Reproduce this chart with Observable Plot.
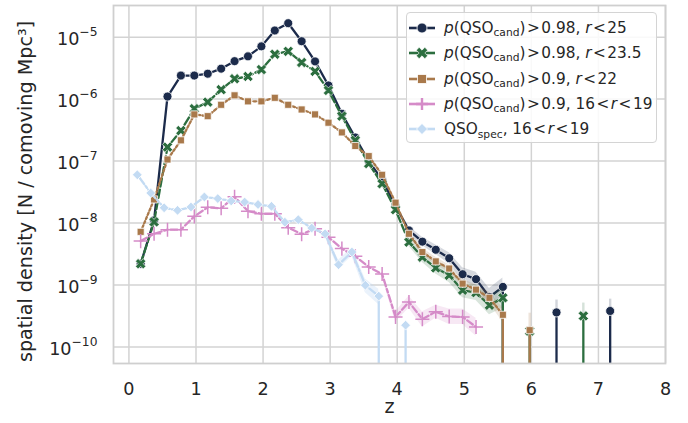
<!DOCTYPE html>
<html><head><meta charset="utf-8">
<script src="https://cdn.jsdelivr.net/npm/d3@7"></script>
<script src="https://cdn.jsdelivr.net/npm/@observablehq/plot@0.6"></script>
<style>
body{margin:0;background:#fff;}
#wrap{position:relative;width:688px;height:423px;font-family:"DejaVu Sans",sans-serif;color:#262626;}
#legend{position:absolute;left:406px;top:12px;width:251px;height:131px;box-sizing:border-box;border:1px solid #d4d4d4;border-radius:4px;background:rgba(255,255,255,0.85);font-size:15.3px;}
.row{position:absolute;left:0;height:20px;display:flex;align-items:center;white-space:nowrap;}
.row svg{margin-left:2px;margin-right:9px;}
.sub{font-size:70%;position:relative;top:0.3em;}
i{font-style:italic;}
</style></head>
<body><div id="wrap"></div>
<script>
// ---- data ----
const zCand = [0.175,0.375,0.575,0.775,0.975,1.175,1.375,1.575,1.775,1.975,2.175,2.375,2.575,2.775,2.975,3.175,3.375,3.575,3.775,3.975,4.175,4.375,4.575,4.775,4.975,5.175,5.375,5.575,5.775,5.975,6.175,6.375,6.575,6.775,6.975,7.175];
const navy  = [2.2e-9,1.1e-8,1.1e-6,2.4e-6,2.4e-6,2.57e-6,3.1e-6,4.1e-6,4.9e-6,7.1e-6,1.28e-5,1.68e-5,8.6e-6,4.06e-6,1.66e-6,5.8e-7,2.4e-7,1.0e-7,5.0e-8,1.9e-8,7.6e-9,5.0e-9,3.7e-9,2.7e-9,1.49e-9,1.24e-9,6.4e-10,9.3e-10,0,0,0,3.6e-10,0,0,0,3.8e-10];
const green = [2.2e-9,1.04e-8,1.68e-7,3.1e-7,7.0e-7,8.95e-7,1.42e-6,2.13e-6,2.32e-6,3.0e-6,5.3e-6,5.9e-6,3.9e-6,2.8e-6,1.38e-6,5.3e-7,2.16e-7,9.1e-8,4.3e-8,1.64e-8,4.9e-9,2.8e-9,1.88e-9,1.43e-9,8.2e-10,7.5e-10,4.7e-10,6.2e-10,0,1.8e-10,0,0,0,3.16e-10,0,0];
const brown = [7.2e-9,2.4e-8,1.06e-7,2.16e-7,5.66e-7,5.3e-7,8.1e-7,1.15e-6,9.2e-7,9.2e-7,1.05e-6,8.1e-7,6.8e-7,5.66e-7,4.16e-7,2.9e-7,1.75e-7,1.2e-7,6.0e-8,2.13e-8,6.7e-9,3.4e-9,2.4e-9,1.84e-9,1.05e-9,8.4e-10,6.2e-10,3.3e-10,0,1.86e-10,0,0,0,0,0,0];
const zPink = [0.175,0.375,0.575,0.775,0.975,1.175,1.375,1.575,1.775,1.975,2.175,2.375,2.575,2.775,2.975,3.175,3.375,3.575,3.775,3.975,4.175,4.375,4.575,4.775,4.975,5.175];
const pink  = [5.1e-9,6.7e-9,7.8e-9,7.8e-9,1.28e-8,1.79e-8,1.73e-8,2.65e-8,1.55e-8,1.41e-8,1.41e-8,8.4e-9,6.6e-9,8.1e-9,5.9e-9,3.86e-9,2.9e-9,1.95e-9,1.5e-9,3.05e-10,5.3e-10,2.8e-10,3.7e-10,3.1e-10,3.05e-10,2.1e-10];
const zSpec = [0.125,0.325,0.525,0.725,0.925,1.125,1.325,1.525,1.725,1.925,2.125,2.325,2.525,2.725,2.925,3.125,3.325,3.525,3.725,3.925,4.125,4.325];
const spec  = [6.0e-8,3.05e-8,1.76e-8,1.6e-8,1.81e-8,2.63e-8,2.48e-8,2.27e-8,2.18e-8,1.99e-8,1.86e-8,1.03e-8,1.13e-8,8.3e-9,6.7e-9,2.12e-9,3.4e-9,9.9e-10,6.6e-10,0,2.24e-10,0];

// confidence bands (tail parts where they are visible)
const zTail   = [4.175,4.375,4.575,4.775,4.975,5.175,5.375,5.575];
const navyLo  = [6.6e-9,4.3e-9,3.1e-9,2.2e-9,1.15e-9,9.5e-10,4.6e-10,6.6e-10];
const navyHi  = [8.8e-9,5.9e-9,4.4e-9,3.3e-9,1.9e-9,1.6e-9,8.8e-10,1.3e-9];
const greenLo = [4.2e-9,2.3e-9,1.5e-9,1.1e-9,6.2e-10,5.6e-10,3.3e-10,4.2e-10];
const greenHi = [5.7e-9,3.4e-9,2.3e-9,1.8e-9,1.08e-9,1.0e-9,6.6e-10,9.0e-10];
const brownLo = [6.0e-9,3.0e-9,2.1e-9,1.6e-9,9.0e-10,7.0e-10,5.0e-10,2.5e-10];
const brownHi = [7.5e-9,3.9e-9,2.8e-9,2.1e-9,1.25e-9,1.0e-9,7.6e-10,4.3e-10];
const zPinkTail = [3.775,3.975,4.175,4.375,4.575,4.775,4.975,5.175];
const pinkLo  = [1.35e-9,2.5e-10,4.2e-10,2.1e-10,2.9e-10,2.3e-10,2.3e-10,1.5e-10];
const pinkHi  = [1.65e-9,3.7e-10,6.6e-10,3.7e-10,4.7e-10,4.1e-10,4.1e-10,2.9e-10];
const zSpecTail = [2.925,3.125,3.325,3.525,3.725];
const specLo  = [6.0e-9,1.8e-9,2.9e-9,7.5e-10,4.8e-10];
const specHi  = [7.4e-9,2.5e-9,4.0e-9,1.25e-9,8.5e-10];
// upper error of isolated high-z points
const zSpike   = [5.975,6.375,6.775,7.175];
const spikeVal = [1.86e-10,3.6e-10,3.16e-10,3.8e-10];
const spikeHi  = [3.5e-10,5.7e-10,5.1e-10,5.9e-10];
const spikeCol = ["#a9794b","#1c2b4b","#2c6e3f","#1c2b4b"];

const xTicks = [0,1,2,3,4,5,6,7,8];
const yTicks = [1e-10,1e-9,1e-8,1e-7,1e-6,1e-5];
const yTickLabels = ["10^\u221210","10^\u22129","10^\u22128","10^\u22127","10^\u22126","10^\u22125"];
const xLabel = "z";
const yLabel = "spatial density [N / comoving Mpc\u00B3]";

const colors = {navy:"#1c2b4b", green:"#2c6e3f", brown:"#a9794b", pink:"#d58bc8", spec:"#c3dbf3"};

// ---- build ----
const rows = (zs, vs) => zs.map((z,i)=>({z, v: vs[i], prev: i>0 ? vs[i-1] : 1, next: i<vs.length-1 ? vs[i+1] : 1}));
const band = (zs, lo, hi) => zs.map((z,i)=>({z, lo: lo[i], hi: hi[i]}));
const pos = d => d.v > 0;
// points next to an empty (zero) bin fall straight to the floor of the log axis
const drops = rs => rs.filter(d => d.v > 0 && (d.prev === 0 || d.next === 0));
const FLOOR = 1e-12;
const LW = 2.3;

const lineOpts = (c, dash) => ({x:"z", y:"v", stroke: c, strokeWidth: LW, strokeDasharray: dash, clip: true});
const dropOpts = c => ({x:"z", y1: () => FLOOR, y2:"v", stroke: c, strokeWidth: LW, clip: true});

const navyR = rows(zCand, navy), greenR = rows(zCand, green), brownR = rows(zCand, brown);
const pinkR = rows(zPink, pink), specR = rows(zSpec, spec);

const chart = Plot.plot({
  width: 688, height: 423,
  marginLeft: 113, marginRight: 23, marginTop: 5, marginBottom: 60,
  style: {fontFamily: "DejaVu Sans", fontSize: "17.6px", color: "#262626", background: "white", overflow: "visible"},
  x: {domain: [-0.23, 8], label: null},
  y: {type: "log", domain: [Math.pow(10,-10.268), Math.pow(10,-4.489)], label: null},
  marks: [
    Plot.gridX(xTicks, {stroke: "#d3d3d3", strokeOpacity: 1, strokeWidth: 1.5}),
    Plot.gridY(yTicks, {stroke: "#d3d3d3", strokeOpacity: 1, strokeWidth: 1.5}),
    Plot.axisX(xTicks, {tickSize: 0, tickPadding: 19, tickFormat: d => String(d), fill: "#262626"}),
    Plot.axisY(yTicks, {tickSize: 0, tickPadding: 16, tickFormat: d => yTickLabels[yTicks.indexOf(d)], fill: "#262626"}),
    Plot.text([xLabel], {frameAnchor: "bottom", dy: 49, fontSize: 19.2, fill: "#262626"}),
    Plot.text([yLabel], {frameAnchor: "left", textAnchor: "middle", dx: -88, dy: 7, rotate: -90, fontSize: 19.2, fill: "#262626"}),

    // navy
    Plot.areaY(band(zTail, navyLo, navyHi), {x:"z", y1:"lo", y2:"hi", fill: colors.navy, fillOpacity: 0.18}),
    Plot.line(navyR, lineOpts(colors.navy, null)),
    Plot.ruleX(drops(navyR), dropOpts(colors.navy)),
    Plot.dot(navyR.filter(pos), {x:"z", y:"v", r: 4.5, symbol:"circle", fill: colors.navy, stroke:"white", strokeWidth: 0.8}),
    // green
    Plot.areaY(band(zTail, greenLo, greenHi), {x:"z", y1:"lo", y2:"hi", fill: colors.green, fillOpacity: 0.18}),
    Plot.line(greenR, lineOpts(colors.green, "8.3,3.1")),
    Plot.ruleX(drops(greenR), dropOpts(colors.green)),
    Plot.dot(greenR.filter(pos), {x:"z", y:"v", r: 4.6, symbol:"cross", rotate: 45, fill: colors.green, stroke:"white", strokeWidth: 0.6}),
    // brown
    Plot.areaY(band(zTail, brownLo, brownHi), {x:"z", y1:"lo", y2:"hi", fill: colors.brown, fillOpacity: 0.18}),
    Plot.line(brownR, lineOpts(colors.brown, "2.3,2.3")),
    Plot.ruleX(drops(brownR), dropOpts(colors.brown)),
    Plot.dot(brownR.filter(pos), {x:"z", y:"v", r: 4.0, symbol:"square", fill: colors.brown, stroke:"white", strokeWidth: 0.8}),
    // pink
    Plot.areaY(band(zPinkTail, pinkLo, pinkHi), {x:"z", y1:"lo", y2:"hi", fill: colors.pink, fillOpacity: 0.2}),
    Plot.line(pinkR, lineOpts(colors.pink, "6.9,2.9,3.5,2.9")),
    Plot.dot(pinkR.filter(pos), {x:"z", y:"v", r: 4.6, symbol:"plus", stroke: colors.pink, strokeWidth: 1.5}),
    // spectroscopic
    Plot.areaY(band(zSpecTail, specLo, specHi), {x:"z", y1:"lo", y2:"hi", fill: colors.spec, fillOpacity: 0.35}),
    Plot.line(specR, lineOpts(colors.spec, "11.5,2.3,2.3,2.3")),
    Plot.ruleX(drops(specR), dropOpts(colors.spec)),
    Plot.dot(specR.filter(pos), {x:"z", y:"v", r: 4.4, symbol:"diamond2", fill: colors.spec, stroke:"white", strokeWidth: 0.8}),
    // upper errors of isolated points
    Plot.ruleX(zSpike.map((z,i)=>({z, lo: spikeVal[i], hi: spikeHi[i], c: spikeCol[i]})), {x:"z", y1:"lo", y2:"hi", stroke: "c", strokeOpacity: 0.2, strokeWidth: 2.4}),

    Plot.frame({stroke: "#cfcfcf", strokeWidth: 1.8})
  ]
});

// render "10^-5" style tick labels with a real superscript
chart.querySelectorAll('[aria-label="y-axis tick label"] text').forEach(t => {
  const s = t.textContent;
  if (s.indexOf("^") < 0) return;
  const [base, exp] = s.split("^");
  t.textContent = "";
  const b = document.createElementNS("http://www.w3.org/2000/svg", "tspan");
  b.textContent = base;
  b.setAttribute("dy", "2");
  const e = document.createElementNS("http://www.w3.org/2000/svg", "tspan");
  e.textContent = exp;
  e.setAttribute("dy", "-8.5");
  e.setAttribute("font-size", "12.3px");
  t.appendChild(b); t.appendChild(e);
});

const wrap = document.getElementById("wrap");
wrap.appendChild(chart);

// ---- legend ----
const legendItems = [
  {c: colors.navy,  sym: "circle",   html: '<i>p</i>(QSO<span class="sub">cand</span>)&#8202;&gt;&#8202;0.98, <i>r</i>&#8202;&lt;&#8202;25'},
  {c: colors.green, sym: "x",        html: '<i>p</i>(QSO<span class="sub">cand</span>)&#8202;&gt;&#8202;0.98, <i>r</i>&#8202;&lt;&#8202;23.5'},
  {c: colors.brown, sym: "square",   html: '<i>p</i>(QSO<span class="sub">cand</span>)&#8202;&gt;&#8202;0.9, <i>r</i>&#8202;&lt;&#8202;22'},
  {c: colors.pink,  sym: "plus",     html: '<i>p</i>(QSO<span class="sub">cand</span>)&#8202;&gt;&#8202;0.9, 16&#8202;&lt;&#8202;<i>r</i>&#8202;&lt;&#8202;19'},
  {c: colors.spec,  sym: "diamond",  html: 'QSO<span class="sub">spec</span>, 16&#8202;&lt;&#8202;<i>r</i>&#8202;&lt;&#8202;19'}
];
const leg = document.createElement("div");
leg.id = "legend";
legendItems.forEach((it, i) => {
  const row = document.createElement("div");
  row.className = "row";
  row.style.top = (4.7 + i*25.4) + "px";
  let m = "";
  if (it.sym === "circle") m = `<circle cx="13" cy="10" r="5" fill="${it.c}" stroke="white" stroke-width="0.8"/>`;
  if (it.sym === "x") m = `<path transform="translate(13,10) rotate(45)" d="M-6,-2H-2V-6H2V-2H6V2H2V6H-2V2H-6Z" fill="${it.c}" stroke="white" stroke-width="0.6"/>`;
  if (it.sym === "square") m = `<rect x="8.5" y="5.5" width="9" height="9" fill="${it.c}" stroke="white" stroke-width="0.8"/>`;
  if (it.sym === "plus") m = `<path d="M13,4V16M7,10H19" stroke="${it.c}" stroke-width="2.4"/>`;
  if (it.sym === "diamond") m = `<path d="M13,4.5L18.5,10L13,15.5L7.5,10Z" fill="${it.c}" stroke="white" stroke-width="0.8"/>`;
  row.innerHTML = `<svg width="26" height="20"><line x1="0" x2="26" y1="10" y2="10" stroke="${it.c}" stroke-width="2.6"/>${m}</svg><span>${it.html}</span>`;
  leg.appendChild(row);
});
wrap.appendChild(leg);
</script>
</body></html>
